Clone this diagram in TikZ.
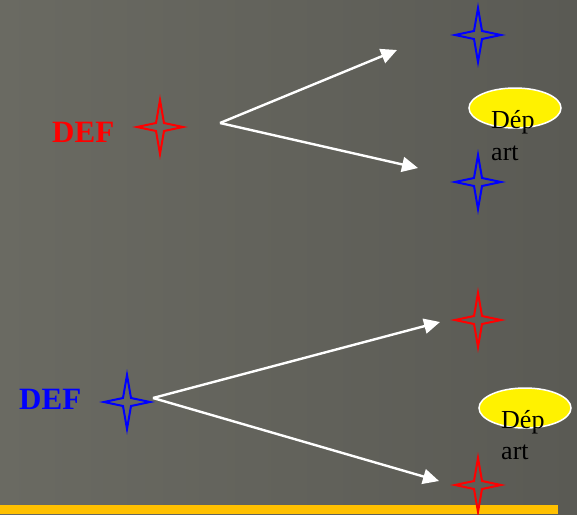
\documentclass[tikz,border=0pt]{standalone}
\usepackage{fontspec}
\setmainfont{Liberation Serif}
\usetikzlibrary{arrows.meta,shapes.geometric}
\definecolor{bgL}{RGB}{106,106,98}
\definecolor{bgR}{RGB}{90,90,84}
\definecolor{barc}{RGB}{255,192,0}
\tikzset{
  fstar/.pic={\draw[line width=2pt,line join=miter] (0,-27) -- (4,-4) -- (23,0) -- (4,4) -- (0,27) -- (-4,4) -- (-23,0) -- (-4,-4) -- cycle;},
  conn/.style={draw=white,line width=2.4pt,-{Triangle[length=16pt,width=15pt]}},
  deflabel/.style={font=\fontsize{31}{37}\selectfont\bfseries,anchor=base west,inner sep=0pt},
  depbub/.style={ellipse,draw=white,line width=1.5pt,fill=yellow,minimum width=92pt,minimum height=40pt,inner sep=0pt},
  deptext/.style={font=\fontsize{26}{31}\selectfont,anchor=base west,inner sep=0pt,text=black}
}
\begin{document}
\begin{tikzpicture}[x=1pt,y=-1pt]
\useasboundingbox (0,0) rectangle (577,514);
\shade[left color=bgL,right color=bgR] (0,0) rectangle (577,514);
\fill[barc] (0,505) rectangle (558,514);
% top group
\node[deflabel,text=red] (def1) at (52,142) {DEF};
\pic[red] (s1) at (160,127) {fstar};
\pic[blue] (s2) at (478,35) {fstar};
\pic[blue] (s3) at (478,182) {fstar};
\node[depbub] (e1) at (515,108) {};
\node[deptext] (d1a) at (491,128) {Dép};
\node[deptext] (d1b) at (491,160) {art};
\coordinate (o1) at (220,123);
\coordinate (t1) at (397,50);
\coordinate (t2) at (418,168);
\draw[conn] (o1) -- (t1);
\draw[conn] (o1) -- (t2);
% bottom group
\node[deflabel,text=blue] (def2) at (19,409) {DEF};
\pic[blue] (s4) at (127,402) {fstar};
\pic[red] (s5) at (478,320) {fstar};
\pic[red] (s6) at (478,485) {fstar};
\node[depbub] (e2) at (525,408) {};
\node[deptext] (d2a) at (501,428) {Dép};
\node[deptext] (d2b) at (501,459) {art};
\coordinate (o2) at (153,398);
\coordinate (t3) at (440,322);
\coordinate (t4) at (439,481);
\draw[conn] (o2) -- (t3);
\draw[conn] (o2) -- (t4);
\end{tikzpicture}
\end{document}
